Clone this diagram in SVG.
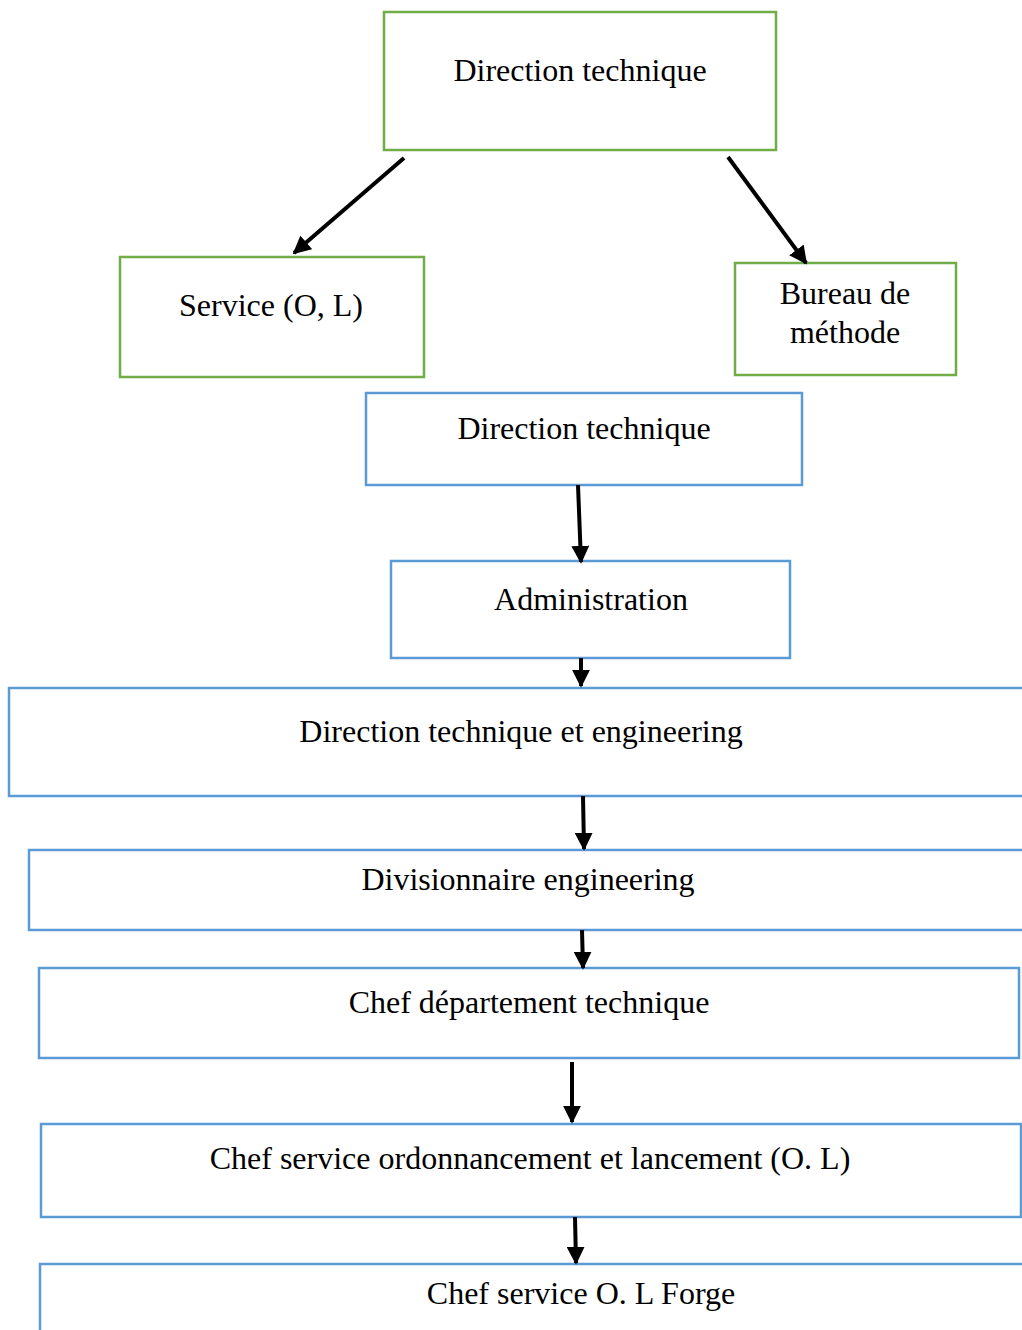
<svg xmlns="http://www.w3.org/2000/svg" width="1022" height="1330" viewBox="0 0 1022 1330">
<style>
.g{fill:#fff;stroke:#70ad47;stroke-width:2.5}
.b{fill:#fff;stroke:#5b9bd5;stroke-width:2.5}
text{font-family:"Liberation Serif","Times New Roman",serif;font-size:32px;fill:#000;text-anchor:middle}
.c line{stroke:#000;stroke-width:4;marker-end:url(#ah)}
</style>
<defs>
<marker id="ah" viewBox="0 0 10 10" refX="9" refY="5" markerWidth="4.5" markerHeight="4.5" orient="auto" markerUnits="strokeWidth">
<path d="M0,0 L10,5 L0,10 z" fill="#000"/>
</marker>
</defs>
<rect width="1022" height="1330" fill="#fff"/>
<g id="n1"><rect class="g" x="384" y="12" width="392" height="138"/><text x="580" y="81">Direction technique</text></g>
<g id="n2"><rect class="g" x="120" y="257" width="304" height="120"/><text x="271" y="316">Service (O, L)</text></g>
<g id="n3"><rect class="g" x="735" y="263" width="221" height="112"/><text x="845" y="304">Bureau de</text><text x="845" y="343">méthode</text></g>
<g id="n4"><rect class="b" x="366" y="393" width="436" height="92"/><text x="584" y="439">Direction technique</text></g>
<g id="n5"><rect class="b" x="391" y="561" width="399" height="97"/><text x="591" y="610">Administration</text></g>
<g id="n6"><rect class="b" x="9" y="688" width="1030" height="108"/><text x="521" y="742">Direction technique et engineering</text></g>
<g id="n7"><rect class="b" x="29" y="850" width="1010" height="80"/><text x="528" y="890">Divisionnaire engineering</text></g>
<g id="n8"><rect class="b" x="39" y="968" width="980" height="90"/><text x="529" y="1013">Chef département technique</text></g>
<g id="n9"><rect class="b" x="41" y="1124" width="980" height="93"/><text x="530" y="1169">Chef service ordonnancement et lancement (O. L)</text></g>
<g id="n10"><rect class="b" x="40" y="1264" width="1000" height="100"/><text x="581" y="1304">Chef service O. L Forge</text></g>
<g id="connectors" class="c">
<line x1="404" y1="158" x2="294" y2="253"/>
<line x1="728" y1="157" x2="806" y2="263"/>
<line x1="578" y1="485" x2="581" y2="562"/>
<line x1="581" y1="658" x2="581" y2="686"/>
<line x1="583" y1="796" x2="584" y2="849"/>
<line x1="582" y1="930" x2="583" y2="968"/>
<line x1="572" y1="1062" x2="572" y2="1122"/>
<line x1="575" y1="1217" x2="576" y2="1263"/>
</g>
</svg>
